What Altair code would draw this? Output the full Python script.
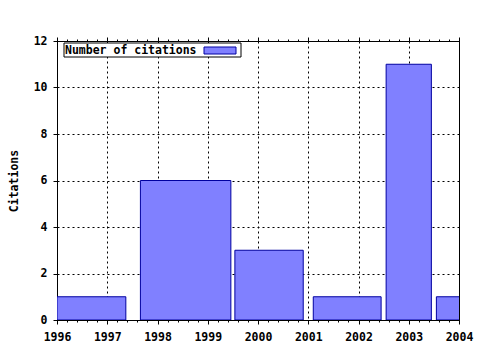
import altair as alt
import pandas as pd

# Bars (year spans) and citation counts
bar_start = [1996.0, 1997.66, 1999.54, 2001.10, 2002.55, 2003.55]
bar_end = [1997.37, 1999.46, 2000.90, 2002.45, 2003.45, 2004.45]
citations = [1, 6, 3, 1, 11, 1]

x_ticks = [round(1996 + i * 0.2, 1) for i in range(41)]
y_ticks = [0, 2, 4, 6, 8, 10, 12]
legend_label = "Number of citations"

FONT = "DejaVu Sans Mono"
FILL = "#8080ff"
EDGE = "#0000a0"

df = pd.DataFrame({"start": bar_start, "end": bar_end, "n": citations})

is_major = "abs(datum.value - round(datum.value)) < 0.01"

x_scale = alt.Scale(domain=[1996, 2004], nice=False, zero=False)
y_scale = alt.Scale(domain=[0, 12], nice=False)

x_axis = alt.Axis(
    values=x_ticks,
    labelExpr=f"{is_major} ? format(datum.value, 'd') : ''",
    labelOverlap=False,
    labelFlush=False,
    labelBound=False,
    title=None,
    grid=True,
    gridDash=[2, 3],
    gridColor="black",
    gridOpacity={"condition": {"test": is_major, "value": 1}, "value": 0},
    tickSize={"condition": {"test": is_major, "value": 4}, "value": 2},
    tickColor="black",
    domainColor="black",
    labelFont=FONT,
    labelFontSize=11.5,
    labelFontWeight="bold",
    labelColor="black",
    labelPadding=7,
)

y_axis = alt.Axis(
    values=y_ticks,
    title="Citations",
    titleFont=FONT,
    titleFontSize=11.5,
    titleFontWeight="bold",
    titleColor="black",
    titleX=-43,
    titleAlign="center",
    titleBaseline="middle",
    titleAngle=-90,
    grid=True,
    gridDash=[2, 3],
    gridColor="black",
    tickSize=4,
    tickColor="black",
    domainColor="black",
    labelFont=FONT,
    labelFontSize=11.5,
    labelFontWeight="bold",
    labelColor="black",
    labelPadding=6,
    labelFlush=False,
    format="d",
)

bars = alt.Chart(df).mark_rect(
    fill=FILL, stroke=EDGE, strokeWidth=1, clip=True
).encode(
    x=alt.X("start:Q", scale=x_scale, axis=x_axis),
    x2="end:Q",
    y=alt.Y("n:Q", scale=y_scale, axis=y_axis),
    y2=alt.datum(0),
)

top_axis = alt.Chart(df).mark_rect(opacity=0).encode(
    x=alt.X(
        "start:Q",
        scale=x_scale,
        axis=alt.Axis(
            orient="top",
            values=x_ticks,
            labels=False,
            title=None,
            grid=False,
            domainColor="black",
            tickColor="black",
            tickSize={"condition": {"test": is_major, "value": 4}, "value": 2},
        ),
    ),
    x2="end:Q",
    y=alt.Y("n:Q", scale=y_scale),
    y2=alt.datum(0),
)

one = pd.DataFrame({"k": [0]})
leg_box = alt.Chart(one).mark_rect(
    fill="white", stroke="black", strokeWidth=1
).encode(x=alt.value(7), x2=alt.value(184), y=alt.value(2), y2=alt.value(16))
leg_text = alt.Chart(one).mark_text(
    text=legend_label, font=FONT, fontSize=11.5, fontWeight="bold",
    align="left", baseline="middle", color="black"
).encode(x=alt.value(8), y=alt.value(9.5))
leg_swatch = alt.Chart(one).mark_rect(
    fill=FILL, stroke=EDGE, strokeWidth=1
).encode(x=alt.value(147), x2=alt.value(179), y=alt.value(6), y2=alt.value(13))

chart = alt.layer(bars, top_axis, leg_box, leg_text, leg_swatch).resolve_axis(
    x="independent"
).properties(
    width=402,
    height=279,
    autosize=alt.AutoSizeParams(type="none"),
    padding={"left": 57, "top": 41, "right": 21, "bottom": 30},
    background="white",
).configure_view(stroke="black", strokeWidth=1)

chart.save("out.html", embed_options={"renderer": "svg", "actions": False})
